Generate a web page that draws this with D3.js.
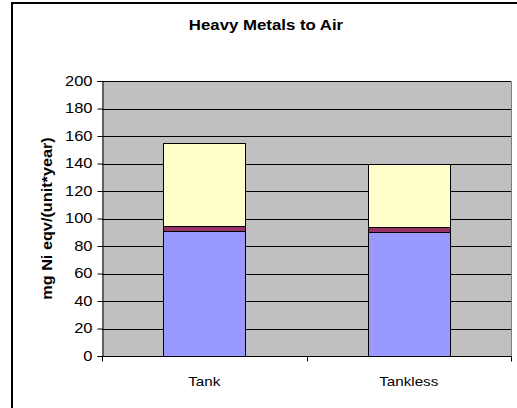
<!DOCTYPE html>
<html><head><meta charset="utf-8">
<script src="https://cdn.jsdelivr.net/npm/d3@7"></script>
<style>body{margin:0;background:#fff;} svg{display:block;font-family:"Liberation Sans",Arial,sans-serif;}</style>
</head><body>
<script>
const categories = ["Tank", "Tankless"];
const seriesNames = ["Series1", "Series2", "Series3"];
const series1 = [91, 90.5];
const series2 = [3.5, 3.5];
const series3 = [60.5, 46];
const yTicks = [0, 20, 40, 60, 80, 100, 120, 140, 160, 180, 200];
const colors = ["#9999ff", "#993366", "#ffffcc"];

const W = 517, H = 408;
const svg = d3.select("body").append("svg").attr("width", W).attr("height", H);

// outer frame
svg.append("rect").attr("x", 12).attr("y", 3).attr("width", 520).attr("height", 420)
  .attr("fill", "none").attr("stroke", "#000").attr("stroke-width", 2);

const m = {left: 102, right: 511, top: 81, bottom: 356};
const x = d3.scaleBand().domain(categories).range([m.left, m.right]).paddingInner(0.6).paddingOuter(0.3);
const y = d3.scaleLinear().domain([0, 200]).range([m.bottom, m.top]);

svg.append("rect").attr("x", m.left).attr("y", m.top).attr("width", m.right - m.left).attr("height", m.bottom - m.top)
  .attr("fill", "#c0c0c0");
// top and right border gray
svg.append("path").attr("d", `M${m.left},${m.top+0.5}H${m.right+0.5}V${m.bottom}`)
  .attr("fill", "none").attr("stroke", "#808080").attr("stroke-width", 1);

// gridlines
svg.append("g").selectAll("line").data(yTicks.filter(d => d > 0)).join("line")
  .attr("x1", m.left).attr("x2", m.right)
  .attr("y1", d => Math.round(y(d)) + 0.5).attr("y2", d => Math.round(y(d)) + 0.5)
  .attr("stroke", "#000").attr("stroke-width", 1);

// stacked bars
const data = categories.map((c, i) => ({cat: c, Series1: series1[i], Series2: series2[i], Series3: series3[i]}));
const stack = d3.stack().keys(seriesNames)(data);
stack.forEach((layer, li) => {
  svg.append("g").selectAll("rect").data(layer).join("rect")
    .attr("x", d => Math.round(x(d.data.cat)) + 0.5)
    .attr("width", Math.round(x.bandwidth()))
    .attr("y", d => Math.round(y(d[1])) + 0.5)
    .attr("height", d => Math.round(y(d[0])) - Math.round(y(d[1])))
    .attr("fill", colors[li]).attr("stroke", "#000").attr("stroke-width", 1);
});

// y axis
const yAxis = d3.axisLeft(y).tickValues(yTicks).tickSize(5).tickPadding(5);
const gy = svg.append("g").attr("transform", `translate(${m.left + 0.5},0)`).call(yAxis);
gy.select(".domain").attr("stroke", "#000");
gy.selectAll("text").attr("font-size", 14).attr("fill", "#000")
  .attr("font-family", "Liberation Sans, Arial, sans-serif")
  .attr("x", 0).attr("transform", "translate(-10,0) scale(1.18,1)");

// x axis
const gx = svg.append("g").attr("transform", `translate(0,${m.bottom + 0.5})`);
gx.append("line").attr("x1", m.left).attr("x2", m.right + 1).attr("stroke", "#000");
const bound = [m.left, (m.left + m.right) / 2, m.right];
gx.selectAll("line.t").data(bound).join("line").attr("class", "t")
  .attr("x1", d => Math.round(d) + 0.5).attr("x2", d => Math.round(d) + 0.5)
  .attr("y1", 0).attr("y2", 5).attr("stroke", "#000");
gx.selectAll("text").data(categories).join("text")
  .attr("transform", d => `translate(${x(d) + x.bandwidth() / 2},29.5) scale(1.17,1)`)
  .attr("text-anchor", "middle").attr("font-size", 13).text(d => d);

// title
svg.append("text").attr("transform", "translate(266,30) scale(1.2,1)").attr("text-anchor", "middle")
  .attr("font-size", 14).attr("font-weight", "bold").text("Heavy Metals to Air");

// y label
svg.append("text").attr("transform", `translate(52,${(m.top + m.bottom) / 2}) rotate(-90) scale(1.25,1.15)`)
  .attr("text-anchor", "middle").attr("font-size", 13).attr("font-weight", "bold")
  .text("mg Ni eqv/(unit*year)");
</script>
</body></html>
